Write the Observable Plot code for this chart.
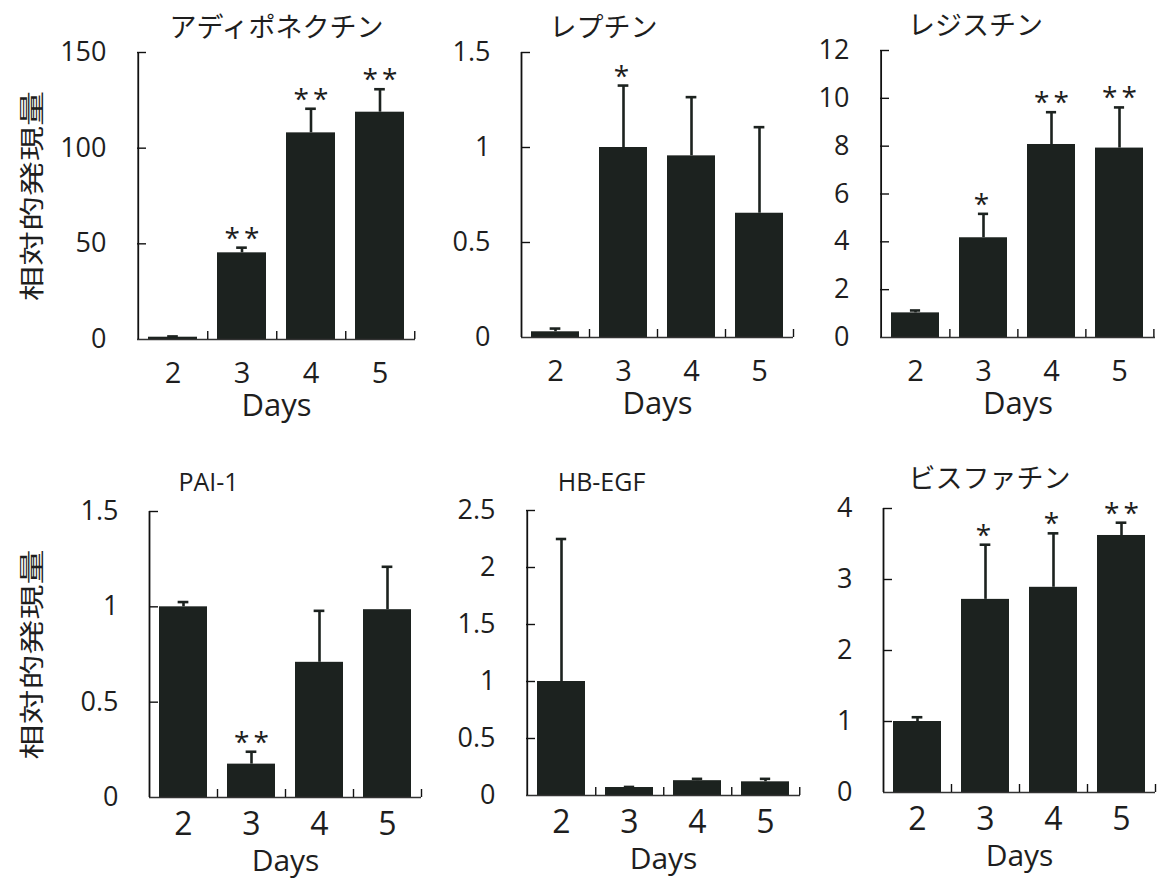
<!DOCTYPE html>
<html><head><meta charset="utf-8">
<script src="https://cdn.jsdelivr.net/npm/d3@7"></script>
<script src="https://cdn.jsdelivr.net/npm/@observablehq/plot@0.6"></script>
<style>
html,body{margin:0;padding:0;background:#fff;}
#chart{position:relative;width:1157px;height:880px;overflow:hidden;background:#fff;}
#chart > svg{position:absolute;overflow:visible;}
</style></head><body><div id="chart"></div>
<script>
// ---------- data ----------
const days = ["2", "3", "4", "5"];
const xLabel = "Days";
const yLabel = "相対的発現量";
const titles = ["アディポネクチン", "レプチン", "レジスチン", "PAI-1", "HB-EGF", "ビスファチン"];

const adiponectinMean = [1.2, 45.3, 108, 118.8];
const adiponectinSD   = [0.4, 2.7, 12.6, 12.0];
const adiponectinSig  = ["", "**", "**", "**"];

const leptinMean = [0.03, 1.0, 0.956, 0.654];
const leptinSD   = [0.017, 0.326, 0.309, 0.453];
const leptinSig  = ["", "*", "", ""];

const resistinMean = [1.03, 4.17, 8.07, 7.92];
const resistinSD   = [0.1, 1.0, 1.35, 1.7];
const resistinSig  = ["", "*", "**", "**"];

const pai1Mean = [1.0, 0.175, 0.709, 0.985];
const pai1SD   = [0.025, 0.065, 0.27, 0.225];
const pai1Sig  = ["", "**", "", ""];

const hbegfMean = [1.0, 0.07, 0.13, 0.12];
const hbegfSD   = [1.25, 0.005, 0.016, 0.026];
const hbegfSig  = ["", "", "", ""];

const visfatinMean = [1.0, 2.72, 2.89, 3.62];
const visfatinSD   = [0.06, 0.77, 0.76, 0.18];
const visfatinSig  = ["", "*", "*", "**"];

const adiponectinTicks = [0, 50, 100, 150];
const leptinTicks = [0, 0.5, 1, 1.5];
const resistinTicks = [0, 2, 4, 6, 8, 10, 12];
const pai1Ticks = [0, 0.5, 1, 1.5];
const hbegfTicks = [0, 0.5, 1, 1.5, 2, 2.5];
const visfatinTicks = [0, 1, 2, 3, 4];

// ---------- layout (pixel geometry only) ----------
const barColor = "#1c221f";
const inkColor = "#1e1e1e";
const panels = [
  {title: titles[0], mean: adiponectinMean, sd: adiponectinSD, sig: adiponectinSig, ticks: adiponectinTicks,
   svg: [0, 0, 420, 430], frame: [137, 415, 52, 339], titleX: 276, titleDy: -24, yLab: 33, row: 0},
  {title: titles[1], mean: leptinMean, sd: leptinSD, sig: leptinSig, ticks: leptinTicks,
   svg: [420, 0, 375, 430], frame: [521, 793, 52, 337], titleX: 603, titleDy: -24, yLab: null, row: 0},
  {title: titles[2], mean: resistinMean, sd: resistinSD, sig: resistinSig, ticks: resistinTicks,
   svg: [795, 0, 362, 430], frame: [880, 1155, 50, 337], titleX: 975, titleDy: -24, yLab: null, row: 0},
  {title: titles[3], mean: pai1Mean, sd: pai1SD, sig: pai1Sig, ticks: pai1Ticks,
   svg: [0, 440, 425, 440], frame: [149, 421, 511, 797], titleX: 208, titleDy: -29, yLab: 33, row: 1},
  {title: titles[4], mean: hbegfMean, sd: hbegfSD, sig: hbegfSig, ticks: hbegfTicks,
   svg: [425, 440, 378, 440], frame: [526, 800, 510, 795], titleX: 601, titleDy: -28, yLab: null, row: 1},
  {title: titles[5], mean: visfatinMean, sd: visfatinSD, sig: visfatinSig, ticks: visfatinTicks,
   svg: [803, 440, 354, 440], frame: [883, 1155, 508, 792], titleX: 989, titleDy: -29, yLab: null, row: 1}
];
const rowStyle = [
  {tickFont: 29, tickDy: 34, daysFont: 31, daysDy: 67},
  {tickFont: 32, tickDy: 27, daysFont: 30, daysDy: 64}
];

const chart = document.getElementById("chart");
const isLatin = s => /^[\x00-\x7F]+$/.test(s);

for (const p of panels) {
  const [sl, st, sw, sh] = p.svg;
  const [fl, fr, ft, fb] = p.frame;
  const marginLeft = fl - sl, marginRight = sl + sw - fr, marginTop = ft - st, marginBottom = st + sh - fb;
  const innerW = fr - fl, innerH = fb - ft;
  const paddingInner = 0.29, paddingOuter = paddingInner / 2;
  const step = innerW / days.length;
  const bw = step * (1 - paddingInner);
  const capW = 11;
  const yMax = p.ticks[p.ticks.length - 1];
  const rs = rowStyle[p.row];
  const data = days.map((d, i) => ({day: d, mean: p.mean[i], top: p.mean[i] + p.sd[i], sig: p.sig[i]}));
  const latin = isLatin(p.title);

  const marks = [
    Plot.barY(data, {x: "day", y: "mean", fill: barColor}),
    Plot.ruleX(data, {x: "day", y1: "mean", y2: "top", stroke: barColor, strokeWidth: 2.6}),
    Plot.tickY(data, {x: "day", y: "top", stroke: barColor, strokeWidth: 2.6,
      insetLeft: (bw - capW) / 2, insetRight: (bw - capW) / 2}),
    // axis lines
    Plot.ruleY([0], {stroke: "#333", strokeWidth: 1.4}),
    Plot.ruleX([days[0]], {x: d => d, y1: 0, y2: yMax, dx: -step / 2, stroke: "#111", strokeWidth: 1.8}),
    Plot.tickY(p.ticks.filter(v => v > 0), {y: d => d, insetRight: innerW - 9, stroke: "#111", strokeWidth: 1.4}),
    Plot.tickX(days, {x: d => d, dx: step / 2, insetTop: innerH - 8, stroke: "#111", strokeWidth: 1.4}),
    // tick labels
    Plot.text(p.ticks, {y: d => d, text: d => String(d), frameAnchor: "left", textAnchor: "end",
      lineAnchor: "middle", dx: -31, fontSize: 27, fill: inkColor}),
    Plot.text(days, {x: d => d, text: d => d, frameAnchor: "bottom", lineAnchor: "middle", dy: rs.tickDy,
      fontSize: rs.tickFont, fill: inkColor}),
    Plot.text([xLabel], {frameAnchor: "bottom", lineAnchor: "middle", textAnchor: "middle", dy: rs.daysDy,
      fontSize: rs.daysFont, fill: inkColor}),
    // title
    Plot.text([p.title], {frameAnchor: "top", lineAnchor: "middle", textAnchor: "middle",
      dx: p.titleX - (fl + fr) / 2, dy: p.titleDy,
      fontSize: latin ? 25 : 27, fontFamily: latin ? "Open Sans" : "Noto Sans CJK JP", fill: inkColor}),
    // significance
    Plot.text(data.filter(d => d.sig), {x: "day", y: "top", text: "sig", lineAnchor: "middle", dy: -9,
      fontSize: 28, fill: inkColor})
  ];
  if (p.yLab !== null) {
    marks.push(Plot.text([yLabel], {frameAnchor: "left", textAnchor: "middle", lineAnchor: "middle",
      dx: p.yLab - fl, rotate: -90, fontSize: 28, fontFamily: "Noto Sans CJK JP", fill: inkColor}));
  }

  const svg = Plot.plot({
    width: sw, height: sh,
    marginLeft, marginRight, marginTop, marginBottom,
    style: {fontFamily: "Open Sans", background: "transparent", color: inkColor, overflow: "visible"},
    x: {type: "band", domain: days, paddingInner, paddingOuter, axis: null},
    y: {domain: [0, yMax], axis: null},
    marks
  });
  svg.style.left = sl + "px";
  svg.style.top = st + "px";
  chart.appendChild(svg);

  d3.select(svg).selectAll("text").each(function () {
    const t = this.textContent;
    if (t === yLabel) {
      const tr = this.getAttribute("transform") || "";
      this.setAttribute("transform", tr + " scale(1.25,0.88)");
    }
    if (/^\*+$/.test(t)) {
      this.setAttribute("letter-spacing", "4");
      if (t.length > 1) this.setAttribute("dx", "2");
    }
  });
}
</script></body></html>
